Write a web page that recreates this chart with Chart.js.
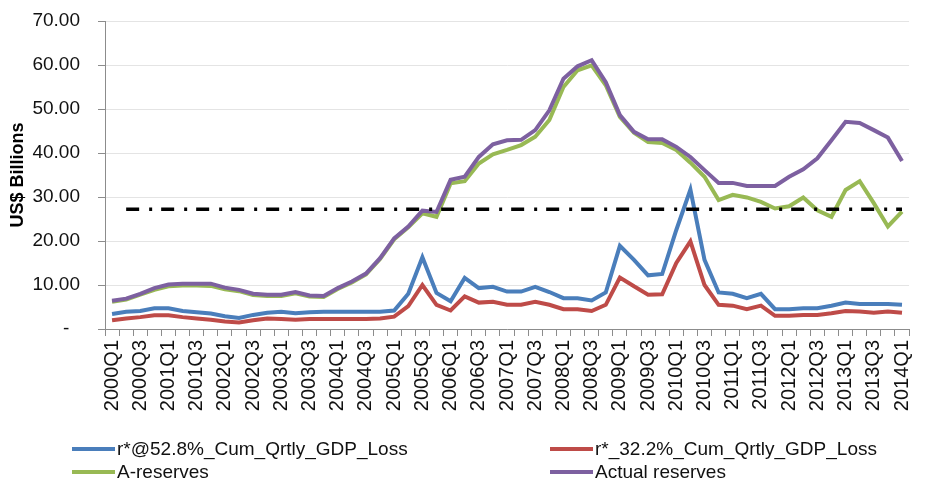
<!DOCTYPE html>
<html>

<head>
    <title>Reserves vs r*</title>
    <meta charset="utf-8">
    <style>
        body { margin: 0; background: #fff; }
        #wrap { position: relative; width: 930px; height: 482px; }
        #legend { position: absolute; left: 0; top: 0; width: 930px; height: 482px; pointer-events: none;
                  font-family: "Liberation Sans", Arial, sans-serif; font-size: 19px; color: #111; }
        .item { position: absolute; height: 22px; line-height: 22px; white-space: nowrap; }
        .item span.sw { display: inline-block; width: 43px; height: 4px; vertical-align: middle; margin-right: 2px; position: relative; top: -1px; }
    </style>
</head>

<body>
    <div id="wrap">
        <canvas id="myChart"></canvas>
        <div id="legend"></div>
    </div>

    <script src="https://cdn.jsdelivr.net/npm/chart.js"></script>
    <script>
        const quarters = [
            "2000Q1", "2000Q2", "2000Q3", "2000Q4", "2001Q1", "2001Q2", "2001Q3", "2001Q4",
            "2002Q1", "2002Q2", "2002Q3", "2002Q4", "2003Q1", "2003Q2", "2003Q3", "2003Q4",
            "2004Q1", "2004Q2", "2004Q3", "2004Q4", "2005Q1", "2005Q2", "2005Q3", "2005Q4",
            "2006Q1", "2006Q2", "2006Q3", "2006Q4", "2007Q1", "2007Q2", "2007Q3", "2007Q4",
            "2008Q1", "2008Q2", "2008Q3", "2008Q4", "2009Q1", "2009Q2", "2009Q3", "2009Q4",
            "2010Q1", "2010Q2", "2010Q3", "2010Q4", "2011Q1", "2011Q2", "2011Q3", "2011Q4",
            "2012Q1", "2012Q2", "2012Q3", "2012Q4", "2013Q1", "2013Q2", "2013Q3", "2013Q4",
            "2014Q1"
        ];

        // US$ billions
        const rStar528 = [
            3.4, 3.9, 4.1, 4.7, 4.7, 4.1, 3.8, 3.5, 2.9, 2.5,
            3.2, 3.7, 3.9, 3.6, 3.8, 3.9, 3.9, 3.9, 3.9, 3.9,
            4.2, 8.0, 16.3, 8.2, 6.3, 11.6, 9.3, 9.6, 8.5, 8.5,
            9.6, 8.4, 7.0, 7.0, 6.5, 8.3, 18.9, 15.7, 12.2, 12.5,
            22.5, 31.7, 15.7, 8.3, 8.0, 7.0, 8.0, 4.5, 4.5, 4.7,
            4.7, 5.3, 6.0, 5.7, 5.7, 5.7, 5.5
        ];
        const rStar322 = [
            2.0, 2.4, 2.7, 3.1, 3.1, 2.7, 2.4, 2.1, 1.7, 1.5,
            2.0, 2.4, 2.3, 2.1, 2.3, 2.3, 2.3, 2.3, 2.3, 2.4,
            2.8, 5.2, 10.0, 5.5, 4.2, 7.4, 6.0, 6.2, 5.5, 5.5,
            6.2, 5.5, 4.5, 4.5, 4.1, 5.5, 11.7, 9.7, 7.8, 7.9,
            15.0, 19.9, 10.0, 5.5, 5.3, 4.5, 5.3, 3.0, 3.0, 3.2,
            3.2, 3.6, 4.1, 4.0, 3.7, 4.0, 3.7
        ];
        const aReserves = [
            6.2, 6.7, 7.8, 8.9, 9.7, 9.9, 9.9, 9.8, 9.0, 8.6,
            7.7, 7.5, 7.5, 8.1, 7.4, 7.3, 9.1, 10.6, 12.4, 15.9,
            20.4, 23.1, 26.3, 25.5, 33.1, 33.6, 37.6, 39.7, 40.7, 41.8,
            43.7, 47.5, 55.0, 58.8, 59.9, 55.4, 48.2, 44.6, 42.5, 42.3,
            40.7, 37.8, 34.6, 29.3, 30.5, 29.9, 28.9, 27.4, 27.9, 29.9,
            27.0, 25.5, 31.6, 33.6, 28.6, 23.3, 26.7
        ];
        const actualReserves = [
            6.4, 6.9, 8.0, 9.3, 10.1, 10.3, 10.3, 10.3, 9.4, 8.9,
            8.0, 7.8, 7.8, 8.4, 7.6, 7.5, 9.3, 10.8, 12.6, 16.1,
            20.6, 23.3, 26.9, 26.6, 33.9, 34.6, 39.1, 42.0, 42.9, 43.0,
            45.2, 49.7, 56.9, 59.7, 61.1, 56.1, 48.6, 44.8, 43.1, 43.1,
            41.4, 39.1, 36.1, 33.2, 33.2, 32.5, 32.5, 32.5, 34.6, 36.3,
            38.8, 42.9, 47.1, 46.8, 45.2, 43.5, 38.2
        ];
        // horizontal reference level, starts at 2000Q2
        const threshold = [null].concat(new Array(56).fill(27.2));

        const canvas = document.getElementById('myChart');
        canvas.width = 930;
        canvas.height = 482;

        function series(label, data, color, order) {
            return {
                label: label,
                data: data,
                borderColor: color,
                backgroundColor: color,
                borderWidth: 4,
                pointRadius: 0,
                tension: 0,
                fill: false,
                order: order
            };
        }

        let chart = new Chart(canvas, {
            type: "line",
            data: {
                labels: quarters,
                datasets: [
                    series("r*@52.8%_Cum_Qrtly_GDP_Loss", rStar528, "#4a7ebb", 4),
                    series("r*_32.2%_Cum_Qrtly_GDP_Loss", rStar322, "#be4b48", 3),
                    series("A-reserves", aReserves, "#98b954", 2),
                    series("Actual reserves", actualReserves, "#7d60a0", 1),
                    {
                        label: "threshold",
                        data: threshold,
                        borderColor: "#000",
                        borderWidth: 3.5,
                        borderDash: [13, 10, 3, 9],
                        borderCapStyle: "butt",
                        pointRadius: 0,
                        fill: false,
                        order: 0
                    }
                ]
            },
            options: {
                responsive: false,
                animation: false,
                events: [],
                layout: { padding: { top: 21, right: 0, left: 0, bottom: 0 } },
                plugins: {
                    legend: { display: false },
                    tooltip: { enabled: false }
                },
                scales: {
                    x: {
                        type: "category",
                        offset: true,
                        afterFit: s => { s.height = 153; },
                        border: { color: "#8c8c8c", width: 1 },
                        grid: {
                            display: true,
                            offset: true,
                            drawOnChartArea: false,
                            drawTicks: true,
                            tickLength: 7,
                            tickColor: "#8c8c8c"
                        },
                        ticks: {
                            autoSkip: false,
                            maxRotation: 90,
                            minRotation: 90,
                            padding: 4,
                            color: "#111",
                            font: { family: "Liberation Sans", size: 20 },
                            callback: function (v, i) { return i % 2 == 0 ? quarters[i] : ""; }
                        }
                    },
                    y: {
                        min: 0,
                        max: 70,
                        afterFit: s => { s.width = 105; s.paddingTop = 10; s.paddingBottom = 10; },
                        border: { color: "#8c8c8c", width: 1 },
                        grid: {
                            color: "#e4e4e4",
                            tickColor: "#8c8c8c",
                            tickLength: 7
                        },
                        ticks: {
                            stepSize: 10,
                            padding: 18,
                            color: "#111",
                            font: { family: "Liberation Sans", size: 19 },
                            callback: v => v == 0 ? "-  " : v.toFixed(2)
                        },
                        title: {
                            display: true,
                            text: "US$ Billions",
                            color: "#000",
                            padding: { top: 7, bottom: 0 },
                            font: { family: "Liberation Sans", size: 18, weight: "bold" }
                        }
                    }
                }
            }
        });

        // two-column legend under the plot, like the original
        const legendPos = [
            { x: 72, y: 438 }, { x: 550, y: 438 },
            { x: 72, y: 461 }, { x: 550, y: 461 }
        ];
        const legend = document.getElementById('legend');
        chart.data.datasets.slice(0, 4).forEach((ds, i) => {
            let d = document.createElement('div');
            d.className = 'item';
            d.style.left = legendPos[i].x + 'px';
            d.style.top = legendPos[i].y + 'px';
            let sw = document.createElement('span');
            sw.className = 'sw';
            sw.style.background = ds.borderColor;
            d.appendChild(sw);
            d.appendChild(document.createTextNode(ds.label));
            legend.appendChild(d);
        });
    </script>
</body>

</html>
